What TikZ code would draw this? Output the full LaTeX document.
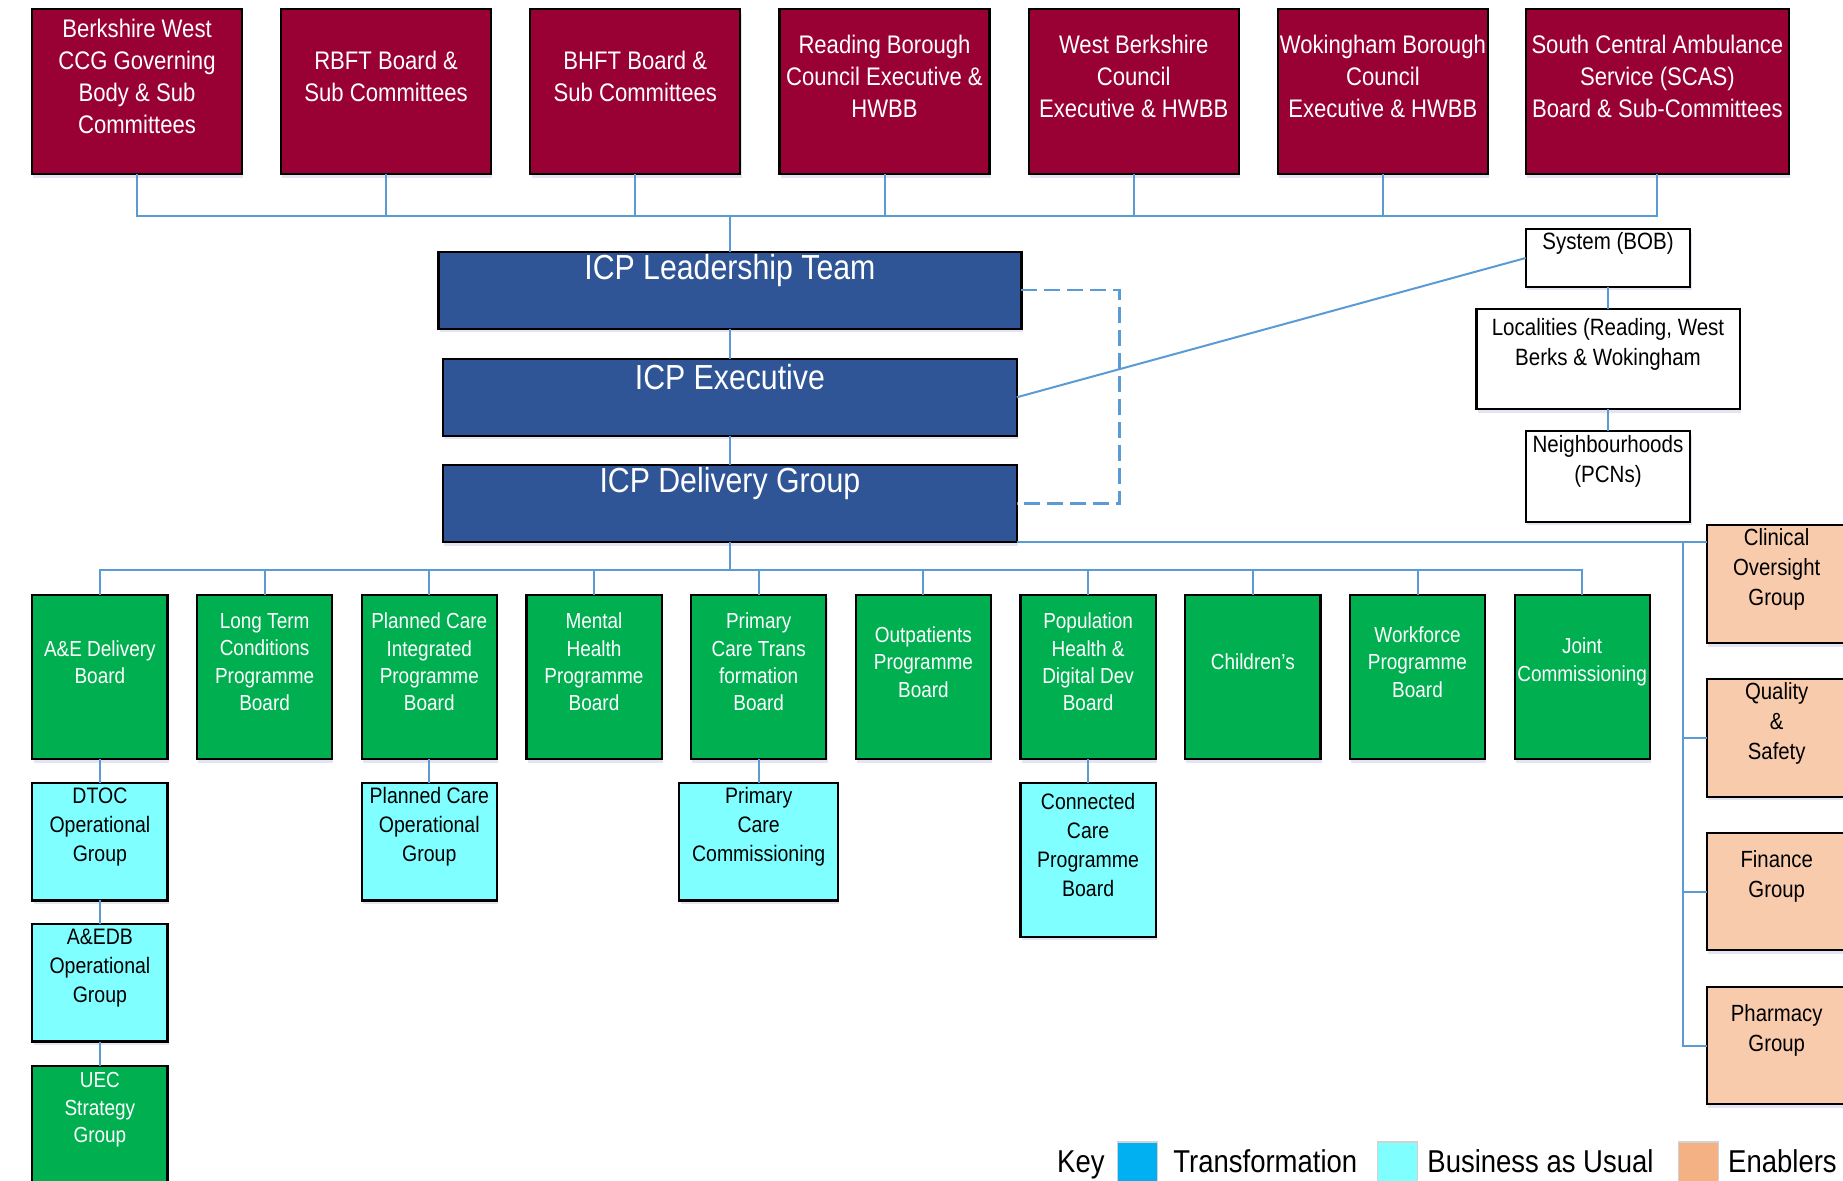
\documentclass[tikz,border=0pt]{standalone}
\usepackage{fontspec}
\setmainfont{Liberation Sans}
\newfontfamily\narrowfont{Liberation Sans}[FakeStretch=0.87]
\usepackage{tikz}
\usetikzlibrary{positioning,calc,shadows}

\definecolor{govred}{HTML}{990033}
\definecolor{icpblue}{HTML}{2F5597}
\definecolor{progreen}{HTML}{00B050}
\definecolor{baucyan}{HTML}{7FFFFF}
\definecolor{enabler}{HTML}{F8CBAD}
\definecolor{keypeach}{HTML}{F4B183}
\definecolor{keyblue}{HTML}{00B0F0}
\definecolor{linkblue}{HTML}{5B9BD5}

\begin{document}
\begin{tikzpicture}[x=0.5pt,y=-0.5pt]
\path[use as bounding box,fill=white] (0,0) rectangle (1843,1181);

\tikzstyle{boxshadow}=[drop shadow={shadow xshift=0.6pt,shadow yshift=-1.8pt,opacity=0.15,fill=blue!40!gray}]
\tikzstyle{box}=[draw=black,line width=1.1pt,inner sep=0pt,outer sep=0pt,boxshadow]
\tikzstyle{govbox}=[box,fill=govred,minimum width=105pt,minimum height=82.3pt]
\tikzstyle{icpbox}=[box,fill=icpblue,minimum width=286.8pt,minimum height=38.5pt]
\tikzstyle{progbox}=[box,fill=progreen,minimum width=67.6pt,minimum height=82.3pt]
\tikzstyle{baubox}=[box,fill=baucyan,minimum width=67.6pt,minimum height=58.8pt]
\tikzstyle{enbox}=[box,fill=enabler,minimum width=70pt,minimum height=58.8pt]
\tikzstyle{sysbox}=[box,fill=white]
\tikzstyle{keysq}=[draw=gray!35,line width=0.6pt,minimum width=20pt,minimum height=23pt,inner sep=0pt]

\tikzstyle{govtext}=[white,align=center,yshift=7.5pt,font=\narrowfont\fontsize{12.7}{16}\selectfont]
\tikzstyle{icptext}=[white,yshift=10pt,font=\narrowfont\fontsize{17.4}{20}\selectfont]
\tikzstyle{progtext}=[white,align=center,yshift=7.5pt,font=\narrowfont\fontsize{10.9}{13.7}\selectfont]
\tikzstyle{bautext}=[black,align=center,yshift=7.5pt,font=\narrowfont\fontsize{11.2}{14.5}\selectfont]
\tikzstyle{entext}=[black,align=center,yshift=7.5pt,font=\narrowfont\fontsize{11.7}{15}\selectfont]
\tikzstyle{systext}=[black,align=center,yshift=7.5pt,font=\narrowfont\fontsize{11.8}{15}\selectfont]
\tikzstyle{keytext}=[inner sep=0pt,font=\narrowfont\fontsize{15.8}{18}\selectfont]

\tikzstyle{link}=[draw=linkblue,line width=1pt]

% governing bodies
\node (bwccg) [govbox,label={[govtext]center:Berkshire West\\CCG Governing\\Body \& Sub\\Committees}] at (137,91.7) {};
\node (rbft) [govbox,label={[govtext]center:RBFT Board \&\\Sub Committees}] at (386.1,91.7) {};
\node (bhft) [govbox,label={[govtext]center:BHFT Board \&\\Sub Committees}] at (635.3,91.7) {};
\node (rbc) [govbox,label={[govtext]center:Reading Borough\\Council Executive \&\\HWBB}] at (884.5,91.7) {};
\node (wbc) [govbox,label={[govtext]center:West Berkshire\\Council\\Executive \& HWBB}] at (1133.7,91.7) {};
\node (wokbc) [govbox,label={[govtext]center:Wokingham Borough\\Council\\Executive \& HWBB}] at (1382.9,91.7) {};
\node (scas) [govbox,minimum width=131.6pt,label={[govtext]center:South Central Ambulance\\Service (SCAS)\\Board \& Sub-Committees}] at (1657.4,91.7) {};

% ICP
\node (lead) [icpbox,minimum width=291.5pt,label={[icptext]center:ICP Leadership Team}] at (729.9,290.3) {};
\node (exec) [icpbox,label={[icptext]center:ICP Executive}] at (729.9,397.3) {};
\node (deliv) [icpbox,label={[icptext]center:ICP Delivery Group}] at (729.9,503.7) {};

% system / localities
\node (bob) [sysbox,minimum width=82.3pt,minimum height=28.8pt,label={[systext]center:System (BOB)}] at (1608,258) {};
\node (loc) [sysbox,minimum width=131.6pt,minimum height=50pt,label={[systext]center:Localities (Reading, West\\Berks \& Wokingham}] at (1608,359) {};
\node (nbh) [sysbox,minimum width=82.3pt,minimum height=45.2pt,label={[systext]center:Neighbourhoods\\(PCNs)}] at (1608,476.6) {};

% programme boards
\node (ae) [progbox,label={[progtext]center:A\&E Delivery\\Board}] at (99.9,677) {};
\node (ltc) [progbox,right=14.75pt of ae,label={[progtext]center:Long Term\\Conditions\\Programme\\Board}] {};
\node (pcib) [progbox,right=14.75pt of ltc,label={[progtext]center:Planned Care\\Integrated\\Programme\\Board}] {};
\node (mh) [progbox,right=14.75pt of pcib,label={[progtext]center:Mental\\Health\\Programme\\Board}] {};
\node (pct) [progbox,right=14.75pt of mh,label={[progtext]center:Primary\\Care Trans\\formation\\Board}] {};
\node (outp) [progbox,right=14.75pt of pct,label={[progtext]center:Outpatients\\Programme\\Board}] {};
\node (pop) [progbox,right=14.75pt of outp,label={[progtext]center:Population\\Health \&\\Digital Dev\\Board}] {};
\node (child) [progbox,right=14.75pt of pop,label={[progtext]center:Children’s}] {};
\node (wf) [progbox,right=14.75pt of child,label={[progtext]center:Workforce\\Programme\\Board}] {};
\node (joint) [progbox,right=14.75pt of wf,label={[progtext]center:Joint\\Commissioning}] {};

% business as usual groups
\node (dtoc) [baubox,below=11.75pt of ae,label={[bautext]center:DTOC\\Operational\\Group}] {};
\node (aedb) [baubox,below=11.75pt of dtoc,label={[bautext]center:A\&EDB\\Operational\\Group}] {};
\node (uec) [progbox,minimum height=58.8pt,below=12.3pt of aedb,label={[progtext]center:UEC\\Strategy\\Group}] {};
\node (pcop) [baubox,below=11.75pt of pcib,label={[bautext]center:Planned Care\\Operational\\Group}] {};
\node (pcc) [baubox,minimum width=79.4pt,below=11.75pt of pct,label={[bautext]center:Primary\\Care\\Commissioning}] {};
\node (ccpb) [baubox,minimum height=77pt,below=11.75pt of pop,label={[bautext]center:Connected\\Care\\Programme\\Board}] {};

% enablers
\node (clin) [enbox,label={[entext]center:Clinical\\Oversight\\Group}] at (1776.7,584.2) {};
\node (qual) [enbox,label={[entext]center:Quality\\\&\\Safety}] at (1776.7,738.1) {};
\node (fin) [enbox,label={[entext]center:Finance\\Group}] at (1776.7,891.5) {};
\node (pharm) [enbox,label={[entext]center:Pharmacy\\Group}] at (1776.7,1045.5) {};

% connectors
\coordinate (topbus) at (729.9,216);
\draw[link] (bwccg.south) |- (scas.south |- topbus) -- (scas.south);
\foreach \n in {rbft,bhft,rbc,wbc,wokbc}
  \draw[link] (\n.south) -- (\n.south |- topbus);
\draw[link] (topbus) -- (lead.north);
\draw[link] (lead) -- (exec);
\draw[link] (exec) -- (deliv);
\draw[link,line width=1.2pt,dash pattern=on 8pt off 3.5pt] (lead.east) -- ++(98,0) |- (deliv.east);
\draw[link] (exec.east) -- (bob.west);
\draw[link] (bob) -- (loc);
\draw[link] (loc) -- (nbh);

\coordinate (progbus) at (729.9,570);
\draw[link] (deliv.south) -- (progbus);
\draw[link] (ae.north) |- (joint.north |- progbus) -- (joint.north);
\foreach \n in {ltc,pcib,mh,pct,outp,pop,child,wf}
  \draw[link] (\n.north) -- (\n.north |- progbus);
\draw[link] (ae) -- (dtoc);
\draw[link] (dtoc) -- (aedb);
\draw[link] (aedb) -- (uec);
\draw[link] (pcib) -- (pcop);
\draw[link] (pct) -- (pcc);
\draw[link] (pop) -- (ccpb);

\coordinate (spinetop) at ($(deliv.south east)+(666.3,0)$);
\draw[link] (deliv.south east) -- (deliv.south east -| clin.west);
\draw[link] (spinetop) |- (pharm.west);
\draw[link] (spinetop |- qual.west) -- (qual.west);
\draw[link] (spinetop |- fin.west) -- (fin.west);

% key
\node (key) [keytext,anchor=base east] at (1105,1172) {Key};
\node (ktrans) [keysq,fill=keyblue] at (1137.8,1165) {};
\node (ktranstext) [keytext,anchor=base west] at (1173,1172) {Transformation};
\node (kbau) [keysq,fill=baucyan] at (1397.5,1165) {};
\node (kbautext) [keytext,anchor=base west] at (1427,1172) {Business as Usual};
\node (ken) [keysq,fill=keypeach] at (1698.5,1165) {};
\node (kentext) [keytext,anchor=base west] at (1727.8,1172) {Enablers};
\end{tikzpicture}
\end{document}
